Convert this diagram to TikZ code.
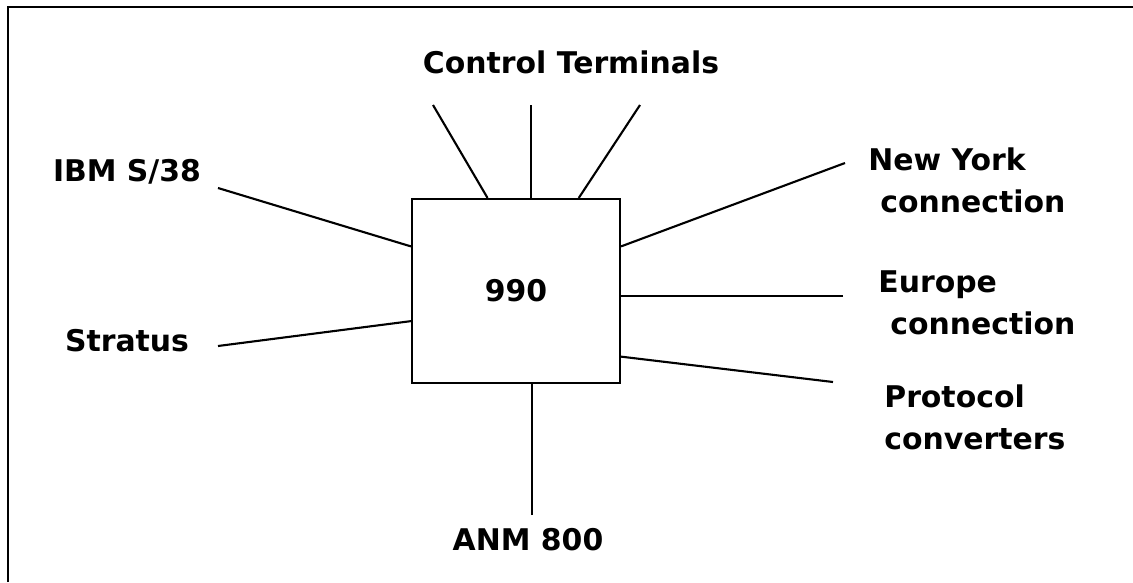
\documentclass[tikz,border=0pt]{standalone}
\usepackage{fontspec}
\setmainfont{DejaVu Sans}
\usepackage{tikz}
\usetikzlibrary{positioning,calc}
\tikzset{hubbox/.style={draw=black,line width=1.2pt,fill=white,minimum width=4.16cm,minimum height=3.68cm,inner sep=0pt,font=\fontsize{17}{24}\selectfont\bfseries}, lbl/.style={font=\fontsize{17}{24}\selectfont\bfseries,inner sep=0pt,align=left}, link/.style={line width=1.2pt,draw=black}}

\begin{document}
\begin{tikzpicture}[x=0.02cm,y=-0.02cm]
\useasboundingbox (0,0) rectangle (1133,582);
\draw[line width=1.3pt] (8,582)--(8,7)--(1133,7);
\node[hubbox] (hub) at (516,291) {990};
\node[lbl] (ctrl) at (571,62) {Control Terminals};
\node[lbl] (ibm) at (127,172) {IBM S/38};
\node[lbl] (stratus) at (127,341) {Stratus};
\node[lbl,anchor=north west] (ny) at (868,147) {New York\\\hspace*{0.24cm}connection};
\node[lbl,anchor=north west] (europe) at (878,270) {Europe\\\hspace*{0.24cm}connection};
\node[lbl,anchor=north west] (proto) at (884,384) {Protocol\\converters};
\node[lbl] (anm) at (528,540) {ANM 800};
\coordinate (ct1) at (433,105);
\coordinate (ct2) at (531,105);
\coordinate (ct3) at (640,105);
\coordinate (ibmend) at (218,188);
\coordinate (strend) at (218,346);
\coordinate (nyend) at (845,163);
\coordinate (euend) at (843,296);
\coordinate (pcend) at (833,382);
\coordinate (anmend) at (532,515);
\draw[link] (ct1)--(hub.107.5);
\draw[link] (ct2)--(ct2 |- hub.north);
\draw[link] (ct3)--(hub.56.9);
\draw[link] (ibmend)--(hub.157.3);
\draw[link] (strend)--(hub.-164.6);
\draw[link] (nyend)--(hub.23.4);
\draw[link] (euend)--(euend -| hub.east);
\draw[link] (pcend)--(hub.-32.8);
\draw[link] (anmend)--(anmend |- hub.south);
\end{tikzpicture}
\end{document}
